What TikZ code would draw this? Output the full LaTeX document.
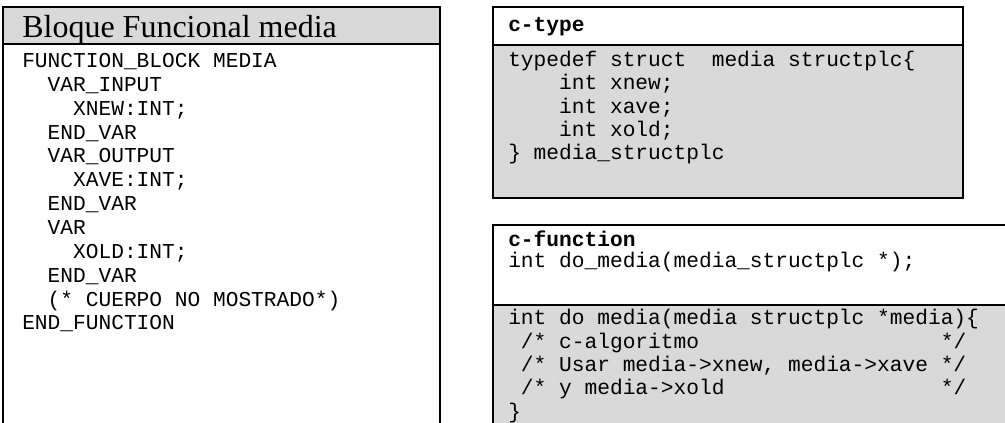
\documentclass[tikz,border=0pt]{standalone}
\usepackage{fontspec}
\setmainfont{Liberation Serif}
\setmonofont{Liberation Mono}
\usepackage{xcolor}
\usepackage{tikz}
\usetikzlibrary{positioning}

\definecolor{cellgray}{HTML}{D9D9D9}
\newcommand{\indt}[1]{\hspace*{#1\dimexpr0.6em\relax}}

\begin{document}
\begin{tikzpicture}[x=0.75pt, y=-0.75pt,
        frame/.style={line width=1.5pt},
        code/.style={anchor=base west, inner sep=0pt, align=left, font=\fontsize{15.9pt}{17.5pt}\selectfont\ttfamily},
        codehead/.style={code, font=\fontsize{15.9pt}{17.5pt}\selectfont\ttfamily\bfseries},
        title/.style={anchor=base west, inner sep=0pt, font=\fontsize{24pt}{28pt}\selectfont}
    ]
        \clip (0,0) rectangle (1005,423);
        % Bloque funcional (texto estructurado); base = ultima linea
        \fill[cellgray] (3,7) rectangle (440,44);
        \draw[frame] (3,423) -- (3,7) -- (440,7) -- (440,423);
        \draw[frame] (3,44) -- (440,44);
        \node[title] (fbtitle) at (22,38) {Bloque Funcional media};
        \node[code, font=\fontsize{15.9pt}{17.9pt}\selectfont\ttfamily] (fbcode) at (22,330) {FUNCTION\_BLOCK MEDIA\\
            \indt{2}VAR\_INPUT\\
            \indt{4}XNEW:INT;\\
            \indt{2}END\_VAR\\
            \indt{2}VAR\_OUTPUT\\
            \indt{4}XAVE:INT;\\
            \indt{2}END\_VAR\\
            \indt{2}VAR\\
            \indt{4}XOLD:INT;\\
            \indt{2}END\_VAR\\
            \indt{2}(* CUERPO NO MOSTRADO*)\\
            END\_FUNCTION};

        % c-type
        \fill[cellgray] (493,45) rectangle (963,198);
        \draw[frame] (493,7) rectangle (963,198);
        \draw[frame] (493,45) -- (963,45);
        \node[codehead] (ctypehead) at (508,32) {c-type};
        \node[code] (ctype) at (508,160) {typedef struct\indt{2}media structplc\{\\
            \indt{4}int xnew;\\
            \indt{4}int xave;\\
            \indt{4}int xold;\\
            \} media\_structplc};

        % c-function
        \fill[cellgray] (493,305) rectangle (1005,423);
        \draw[frame] (1005,225) -- (493,225) -- (493,423);
        \draw[frame] (493,305) -- (1005,305);
        \node[codehead] (cfunchead) at (508,247) {c-function};
        \node[code] (cproto) at (508,268) {int do\_media(media\_structplc *);};
        \node[code] (cbody) at (508,418) {int do media(media structplc *media)\{\\
            \indt{1}/* c-algoritmo\indt{19}*/\\
            \indt{1}/* Usar media->xnew, media->xave */\\
            \indt{1}/* y media->xold\indt{17}*/\\
            \}};
\end{tikzpicture}
\end{document}
